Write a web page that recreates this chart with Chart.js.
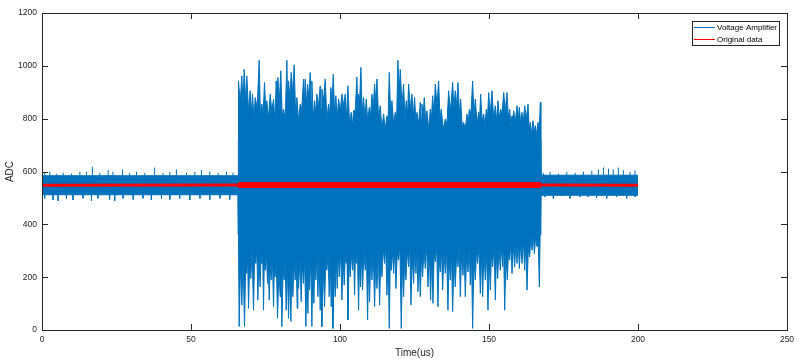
<!DOCTYPE html>
<html>
<head>
<meta charset="utf-8">
<script src="https://cdn.jsdelivr.net/npm/chart.js@4.4.1/dist/chart.umd.min.js"></script>
<style>
  html, body { margin: 0; padding: 0; background: #fff; }
  #wrap { width: 800px; height: 360px; }
</style>
</head>
<body>
<div id="wrap"><canvas id="chart" width="800" height="360"></canvas></div>
<script>
// values (time in us, ADC counts)
const seriesNames = ['Voltage Amplifier', 'Original data'];
const xTicks = [0, 50, 100, 150, 200, 250];
const yTicks = [0, 200, 400, 600, 800, 1000, 1200];

const signalMid = 550;
const burstStart = 65.8, burstEnd = 167.4;

// dense body of the blue trace
const bandTime = [0, 65.8, 65.9, 167.4, 167.5, 200];
const bandHigh = [584, 584, 720, 720, 586, 586];
const bandLow  = [512, 512, 360, 360, 510, 510];

// quiet part: small peaks above and below the band
const quietUpTime = [
  0.9, 2.6, 4.8, 7.1, 9.9, 12.7, 14.9, 16.9, 19.4, 22.2,
  23.8, 27.0, 29.4, 31.7, 34.5, 37.8, 40.6, 42.9, 45.1, 48.5,
  51.3, 53.5, 56.3, 59.1, 61.9, 64.1,
  168.2, 170.5, 173.3, 176.1, 178.9, 181.7, 184.5, 186.7, 188.4, 190.1,
  191.7, 193.4, 195.1, 197.3, 199.0
];
const quietUpAdc = [
  595, 599, 592, 596, 592, 599, 599, 618, 595, 605,
  599, 608, 595, 599, 595, 615, 595, 599, 608, 596,
  599, 605, 599, 595, 599, 596,
  595, 599, 592, 599, 595, 599, 603, 608, 615, 611,
  608, 615, 605, 599, 605
];
const quietDownTime = [
  0.9, 3.7, 5.4, 8.2, 10.4, 13.8, 16.6, 18.8, 22.7, 24.4,
  27.2, 30.6, 33.9, 36.7, 40.1, 42.9, 46.2, 49.6, 53.0, 56.3,
  59.7, 63.0,
  168.8, 171.6, 174.4, 177.2, 180.5, 183.3, 186.1, 189.5, 192.8, 196.2,
  199.0
];
const quietDownAdc = [
  498, 492, 489, 498, 492, 498, 489, 498, 494, 489,
  498, 494, 498, 492, 498, 494, 498, 492, 498, 494,
  498, 494,
  504, 498, 507, 498, 504, 504, 500, 498, 504, 498,
  504
];

// burst: upward peaks and the dips between them
const upPeakTime = [
  65.94, 67.06, 67.84, 68.74, 69.86, 70.64, 71.54, 72.88, 73.77, 74.67,
  75.45, 76.57, 77.69, 78.59, 79.15, 80.15, 81.05, 82.17, 82.73, 83.62,
  84.63, 85.53, 86.65, 87.76, 88.32, 89.11, 90.0, 90.56, 91.46, 92.24,
  93.36, 93.92, 95.04, 96.16, 96.94, 97.73, 98.62, 99.52, 100.64, 101.76,
  102.65, 103.77, 104.55, 105.67, 106.23, 107.02, 107.91, 108.81, 109.82, 110.71,
  111.61, 112.39, 113.51, 114.63, 115.75, 116.53, 117.43, 118.55, 119.44, 120.22,
  121.34, 122.24, 123.02, 124.14, 125.04, 125.82, 126.94, 127.5, 128.28, 129.18,
  130.3, 131.08, 131.98, 133.1, 133.99, 135.34, 136.45, 137.8, 138.69, 139.59,
  140.48, 141.49, 142.61, 143.39, 144.51, 145.41, 146.53, 147.2, 148.21, 149.1,
  149.89, 151.01, 152.12, 153.02, 153.92, 154.92, 156.04, 156.94, 157.72, 158.28,
  159.4, 160.18, 161.08, 161.98, 163.09, 163.88, 164.77, 165.56, 166.45, 167.24
];
const upPeakAdc = [
  943, 962, 987, 962, 906, 893, 880, 1021, 855, 937,
  868, 893, 874, 943, 956, 981, 836, 1021, 943, 975,
  1004, 880, 855, 950, 950, 931, 975, 943, 868, 893,
  924, 912, 950, 855, 918, 968, 887, 874, 893, 893,
  924, 824, 830, 958, 893, 994, 880, 874, 843, 893,
  931, 950, 849, 818, 811, 975, 868, 824, 1021, 987,
  931, 868, 931, 893, 880, 824, 862, 855, 880, 830,
  836, 887, 931, 943, 836, 799, 906, 937, 906, 937,
  874, 786, 818, 836, 943, 874, 824, 893, 818, 836,
  899, 906, 849, 868, 836, 899, 899, 836, 811, 830,
  849, 843, 824, 849, 855, 786, 792, 774, 786, 862
];
const upDipTime = [
  66.5, 67.45, 68.3, 69.3, 70.25, 71.1, 72.2, 73.3, 74.2, 75.05,
  76.0, 77.1, 78.15, 78.85, 79.65, 80.6, 81.6, 82.45, 83.2, 84.1,
  85.1, 86.1, 87.2, 88.05, 88.7, 89.55, 90.3, 91.0, 91.85, 92.8,
  93.65, 94.5, 95.6, 96.55, 97.35, 98.2, 99.05, 100.1, 101.2, 102.2,
  103.2, 104.15, 105.1, 105.95, 106.6, 107.45, 108.35, 109.3, 110.25, 111.15,
  112.0, 112.95, 114.05, 115.2, 116.15, 117.0, 118.0, 119.0, 119.85, 120.8,
  121.8, 122.65, 123.6, 124.6, 125.45, 126.4, 127.2, 127.9, 128.75, 129.75,
  130.7, 131.55, 132.55, 133.55, 134.65, 135.9, 137.1, 138.25, 139.15, 140.05,
  141.0, 142.05, 143.0, 143.95, 144.95, 146.0, 146.85, 147.7, 148.65, 149.5,
  150.45, 151.55, 152.55, 153.45, 154.4, 155.5, 156.5, 157.35, 158.0, 158.85,
  159.8, 160.65, 161.55, 162.55, 163.5, 164.3, 165.15, 166.0, 166.85
];
const upDipAdc = [
  860, 850, 870, 830, 820, 800, 840, 810, 820, 840,
  800, 830, 790, 850, 870, 810, 800, 860, 880, 900,
  820, 790, 840, 870, 850, 880, 860, 800, 820, 850,
  830, 870, 800, 810, 860, 820, 800, 830, 850, 800,
  780, 770, 830, 850, 870, 820, 800, 790, 810, 840,
  860, 800, 760, 760, 800, 820, 780, 800, 900, 850,
  800, 810, 840, 810, 790, 780, 800, 810, 790, 760,
  800, 820, 850, 800, 760, 780, 830, 840, 850, 820,
  770, 760, 780, 820, 810, 780, 800, 790, 770, 800,
  820, 800, 790, 800, 820, 830, 800, 770, 770, 790,
  800, 780, 790, 800, 760, 740, 750, 740, 760
];

// burst: downward peaks and the rises between them
const downPeakTime = [
  66.16, 67.06, 67.95, 68.74, 69.3, 70.08, 70.98, 71.76, 72.43, 73.21,
  73.77, 74.33, 74.89, 75.68, 76.24, 76.91, 77.69, 78.25, 79.03, 79.93,
  80.49, 81.27, 81.94, 82.73, 83.51, 84.18, 84.97, 85.64, 86.09, 86.98,
  87.76, 88.55, 89.22, 89.78, 90.56, 91.23, 91.91, 92.58, 93.36, 93.92,
  94.82, 95.6, 96.38, 97.06, 97.62, 98.4, 99.07, 99.74, 100.64, 101.42,
  102.09, 102.65, 103.44, 104.22, 104.89, 105.45, 106.23, 106.91, 107.58, 108.47,
  109.26, 109.93, 110.71, 111.61, 112.39, 113.29, 114.07, 114.96, 115.75, 116.53,
  117.2, 117.99, 118.77, 119.67, 120.56, 121.34, 122.13, 123.02, 123.81, 124.7,
  125.49, 126.16, 126.94, 127.72, 128.62, 129.52, 130.41, 131.19, 131.98, 132.87,
  133.66, 134.44, 135.34, 136.23, 137.01, 137.8, 138.69, 139.59, 140.37, 141.27,
  142.05, 142.95, 143.73, 144.51, 145.41, 146.19, 147.09, 147.87, 148.77, 149.66,
  150.45, 151.23, 152.12, 152.91, 153.8, 154.59, 155.26, 156.15, 156.94, 157.72,
  158.62, 159.4, 160.18, 161.08, 161.98, 162.76, 163.66, 164.44, 165.22, 166.12,
  166.9
];
const downPeakAdc = [
  13, 94, 13, 214, 82, 195, 75, 252, 113, 163,
  252, 75, 226, 176, 113, 189, 88, 201, 44, 126,
  13, 189, 75, 44, 32, 126, 189, 82, 157, 107,
  176, 13, 63, 151, 13, 101, 189, 126, 75, 13,
  88, 226, 126, 88, 6, 126, 157, 201, 113, 170,
  252, 38, 201, 226, 132, 252, 75, 163, 151, 226,
  38, 107, 189, 88, 157, 94, 201, 252, 132, 6,
  226, 214, 157, 264, 6, 126, 189, 239, 94, 176,
  214, 145, 126, 201, 233, 163, 113, 101, 258, 88,
  220, 151, 214, 75, 189, 69, 163, 239, 126, 207,
  126, 220, 170, 6, 189, 252, 138, 126, 189, 75,
  151, 239, 113, 195, 226, 239, 75, 189, 264, 214,
  239, 252, 233, 252, 226, 151, 277, 302, 289, 315,
  163
];
const downRiseTime = [
  66.6, 67.5, 68.35, 69.0, 69.7, 70.5, 71.35, 72.1, 72.8, 73.5,
  74.05, 74.6, 75.3, 75.95, 76.55, 77.3, 77.95, 78.65, 79.5, 80.2,
  80.9, 81.6, 82.35, 83.1, 83.85, 84.6, 85.3, 85.85, 86.55, 87.35,
  88.15, 88.9, 89.5, 90.15, 90.9, 91.55, 92.25, 92.95, 93.65, 94.35,
  95.2, 96.0, 96.7, 97.35, 98.0, 98.75, 99.4, 100.2, 101.05, 101.75,
  102.35, 103.05, 103.85, 104.55, 105.15, 105.85, 106.55, 107.25, 108.0, 108.85,
  109.6, 110.3, 111.15, 112.0, 112.85, 113.7, 114.5, 115.35, 116.15, 116.85,
  117.6, 118.4, 119.2, 120.1, 120.95, 121.75, 122.55, 123.4, 124.25, 125.1,
  125.8, 126.55, 127.35, 128.15, 129.05, 129.95, 130.8, 131.6, 132.45, 133.25,
  134.05, 134.9, 135.8, 136.6, 137.4, 138.25, 139.15, 140.0, 140.8, 141.65,
  142.5, 143.35, 144.1, 144.95, 145.8, 146.65, 147.5, 148.3, 149.2, 150.05,
  150.85, 151.7, 152.5, 153.35, 154.2, 154.9, 155.7, 156.55, 157.35, 158.15,
  159.0, 159.8, 160.65, 161.55, 162.35, 163.2, 164.05, 164.85, 165.65, 166.5
];
const downRiseAdc = [
  250, 270, 240, 290, 260, 300, 280, 310, 270, 290,
  300, 260, 290, 250, 240, 280, 230, 260, 220, 250,
  230, 260, 240, 220, 230, 250, 260, 240, 270, 250,
  270, 230, 250, 280, 240, 260, 290, 270, 250, 240,
  260, 290, 270, 240, 230, 270, 290, 300, 270, 280,
  300, 260, 290, 310, 280, 300, 260, 290, 300, 310,
  260, 280, 300, 270, 290, 280, 310, 320, 290, 250,
  300, 310, 290, 320, 260, 280, 300, 320, 280, 300,
  310, 290, 280, 300, 320, 300, 280, 290, 320, 270,
  310, 290, 300, 270, 300, 260, 290, 320, 290, 310,
  290, 310, 300, 270, 300, 320, 290, 290, 300, 270,
  300, 320, 290, 310, 320, 330, 280, 300, 330, 320,
  330, 340, 330, 340, 330, 310, 350, 360, 350, 340
];

// red reference trace
const origTime = [0, 65.8, 167.4, 200];
const origAdc = [548, 549, 549, 548];

const BLUE = '#0072BD';
const RED = '#FF0000';
const AXIS = '#262626';
const FONT = "'Liberation Sans', Arial, Helvetica, sans-serif";

function toPoints(xs, ys) {
  return xs.map((x, i) => ({ x: x, y: ys[i] }));
}

// small peaks drawn as vertical strokes out of the band
function strokes(xs, ys) {
  const out = [];
  xs.forEach((x, i) => {
    out.push({ x: x, y: signalMid }, { x: x, y: ys[i] }, { x: x, y: null });
  });
  return out;
}

// burst outline: peaks and dips merged in time order
function outline(t1, v1, t2, v2) {
  const pts = toPoints(t1, v1).concat(toPoints(t2, v2));
  pts.sort((a, b) => a.x - b.x);
  return [{ x: burstStart, y: signalMid }].concat(pts, [{ x: burstEnd, y: signalMid }]);
}

const boxPlugin = {
  id: 'box',
  afterDatasetsDraw(chart) {
    const { ctx, chartArea: a, scales } = chart;
    ctx.save();
    ctx.strokeStyle = AXIS;
    ctx.lineWidth = 1;
    ctx.beginPath();
    xTicks.forEach(v => {
      const px = Math.round(scales.x.getPixelForValue(v)) + 0.5;
      ctx.moveTo(px, a.bottom); ctx.lineTo(px, a.bottom - 6);
      ctx.moveTo(px, a.top); ctx.lineTo(px, a.top + 6);
    });
    yTicks.forEach(v => {
      const py = Math.round(scales.y.getPixelForValue(v)) + 0.5;
      ctx.moveTo(a.left, py); ctx.lineTo(a.left + 6, py);
      ctx.moveTo(a.right, py); ctx.lineTo(a.right - 6, py);
    });
    ctx.stroke();
    ctx.strokeRect(Math.round(a.left) + 0.5, Math.round(a.top) + 0.5,
      Math.round(a.width), Math.round(a.height));
    ctx.restore();
  },
  afterDraw(chart) {
    const { ctx, chartArea: a } = chart;
    const colors = [BLUE, RED];
    const w = 87, h = 24;
    const left = Math.round(a.right - 8 - w), top = Math.round(a.top + 8);
    ctx.save();
    ctx.fillStyle = '#fff';
    ctx.fillRect(left, top, w, h);
    ctx.strokeStyle = AXIS;
    ctx.lineWidth = 1;
    ctx.strokeRect(left + 0.5, top + 0.5, w, h);
    ctx.font = '8px ' + FONT;
    ctx.textBaseline = 'middle';
    seriesNames.forEach((name, i) => {
      const y = Math.round(top + 6 + i * 11.5) + 0.5;
      ctx.strokeStyle = colors[i];
      ctx.lineWidth = 1;
      ctx.beginPath();
      ctx.moveTo(left + 2, y);
      ctx.lineTo(left + 23, y);
      ctx.stroke();
      ctx.fillStyle = '#000';
      ctx.fillText(name, left + 25, y);
    });
    ctx.restore();
  }
};

new Chart(document.getElementById('chart'), {
  type: 'line',
  data: {
    datasets: [
      {
        label: seriesNames[1],
        data: toPoints(origTime, origAdc),
        borderColor: RED,
        borderWidth: 3,
        segment: {
          borderWidth: ctx => (ctx.p0.parsed.x >= burstStart && ctx.p1.parsed.x <= burstEnd) ? 6 : 3
        }
      },
      {
        label: seriesNames[0],
        data: outline(upPeakTime, upPeakAdc, upDipTime, upDipAdc),
        borderColor: BLUE,
        borderWidth: 1,
        backgroundColor: BLUE,
        fill: { value: signalMid }
      },
      {
        data: outline(downPeakTime, downPeakAdc, downRiseTime, downRiseAdc),
        borderColor: BLUE,
        borderWidth: 1,
        backgroundColor: BLUE,
        fill: { value: signalMid }
      },
      {
        data: strokes(quietUpTime, quietUpAdc),
        borderColor: BLUE,
        borderWidth: 1
      },
      {
        data: strokes(quietDownTime, quietDownAdc),
        borderColor: BLUE,
        borderWidth: 1
      },
      {
        data: toPoints(bandTime, bandHigh),
        borderColor: BLUE,
        borderWidth: 1,
        backgroundColor: BLUE,
        fill: '+1'
      },
      {
        data: toPoints(bandTime, bandLow),
        borderColor: BLUE,
        borderWidth: 1,
        fill: false
      }
    ]
  },
  options: {
    responsive: false,
    animation: false,
    events: [],
    elements: { point: { radius: 0 }, line: { tension: 0 } },
    layout: { padding: { top: 13, right: 13, left: 0, bottom: 0 } },
    plugins: {
      legend: { display: false },
      tooltip: { enabled: false }
    },
    scales: {
      x: {
        type: 'linear',
        min: 0,
        max: 250,
        afterFit: s => { s.height = 30; },
        afterBuildTicks: s => { s.ticks = xTicks.map(v => ({ value: v })); },
        grid: { display: false, drawTicks: false },
        border: { display: false },
        ticks: {
          padding: 5,
          color: AXIS,
          font: { family: FONT, size: 8.5 },
          maxRotation: 0,
          callback: v => String(v)
        },
        title: {
          display: true,
          text: 'Time(us)',
          color: AXIS,
          font: { family: FONT, size: 10 },
          padding: { top: 0, bottom: 1 }
        }
      },
      y: {
        min: 0,
        max: 1200,
        afterFit: s => { s.width = 42; },
        afterBuildTicks: s => { s.ticks = yTicks.map(v => ({ value: v })); },
        grid: { display: false, drawTicks: false },
        border: { display: false },
        ticks: {
          padding: 5,
          color: AXIS,
          font: { family: FONT, size: 8.5 },
          callback: v => String(v)
        },
        title: {
          display: true,
          text: 'ADC',
          color: AXIS,
          font: { family: FONT, size: 10 },
          padding: { top: 4, bottom: 0 }
        }
      }
    }
  },
  plugins: [boxPlugin]
});
</script>
</body>
</html>
